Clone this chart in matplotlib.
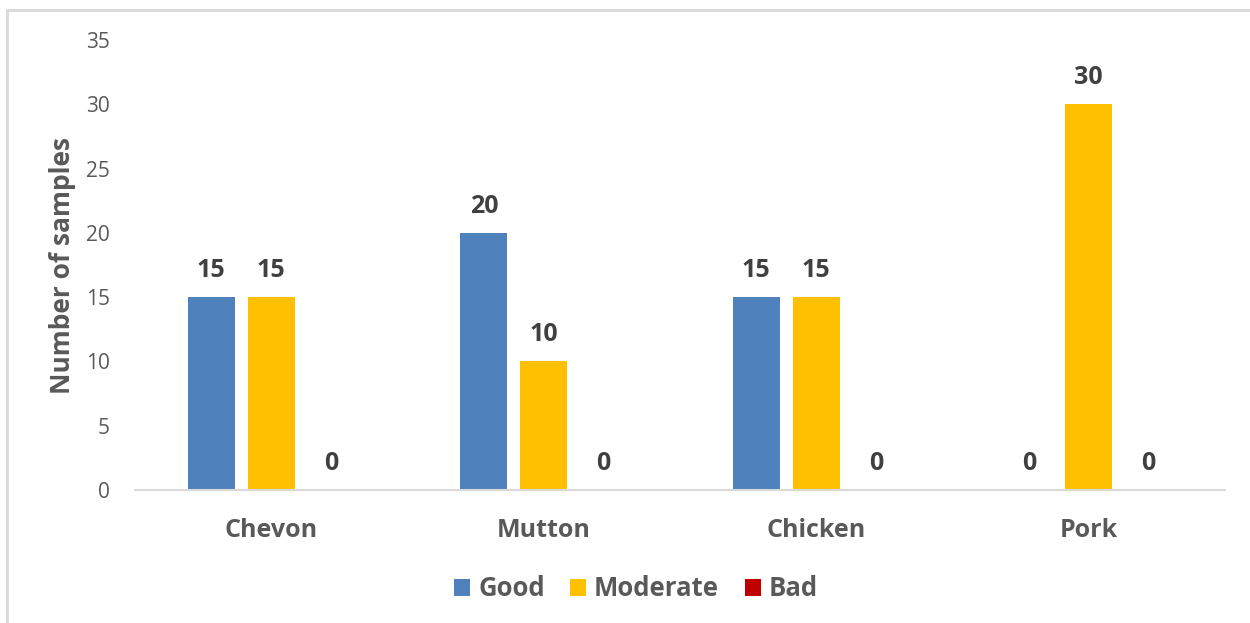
import matplotlib.pyplot as plt
import numpy as np
from matplotlib.patches import Rectangle

# Data
categories = ['Chevon', 'Mutton', 'Chicken', 'Pork']
series = ['Good', 'Moderate', 'Bad']
good = [15, 20, 15, 0]
moderate = [15, 10, 15, 30]
bad = [0, 0, 0, 0]
colors = ['#4F81BD', '#FFC000', '#C00000']

plt.rcParams['font.family'] = ['Open Sans', 'DejaVu Sans']

fig = plt.figure(figsize=(12.5, 6.23), dpi=100)
ax = fig.add_axes([135 / 1250, 1 - 490 / 623, 1090 / 1250, 450 / 623])

# light gray chart border (only left/top visible in the reference)
fig.patches.append(Rectangle((7 / 1250, -0.05), 1.1, 1 - 10 / 623 + 0.05,
                             transform=fig.transFigure, fill=False,
                             edgecolor='#D9D9D9', lw=2))

x = np.arange(len(categories))
width = 0.1725
step = 0.22
for i, (name, vals) in enumerate(zip(series, [good, moderate, bad])):
    pos = x + (i - 1) * step
    ax.bar(pos, vals, width, color=colors[i], label=name)
    for xp, v in zip(pos, vals):
        ax.text(xp, v + 1.1, str(v), ha='center', va='bottom',
                fontsize=18, fontweight='bold', color='#404040')

ax.set_xlim(-0.5, 3.5)
ax.set_ylim(0, 35)
ax.set_yticks(range(0, 36, 5))
ax.set_xticks(x)
ax.set_xticklabels(categories, fontsize=18, fontweight='bold', color='#595959')
ax.tick_params(axis='y', labelsize=15, labelcolor='#595959', length=0, pad=18)
ax.tick_params(axis='x', length=0, pad=20)
for s in ['top', 'right', 'left']:
    ax.spines[s].set_visible(False)
ax.spines['bottom'].set_color('#D9D9D9')
ax.spines['bottom'].set_linewidth(1.5)

ax.set_ylabel('Number of samples', fontsize=19, fontweight='bold', color='#595959', labelpad=7)

ax.legend(loc='center', bbox_to_anchor=(0.4596, -0.22), ncol=3, frameon=False,
          handlelength=0.62, handleheight=0.62, handletextpad=0.3,
          columnspacing=1.0, prop={'weight': 'bold', 'size': 18.5})
for t in ax.get_legend().get_texts():
    t.set_color('#595959')

plt.savefig('out.png', dpi=100)
